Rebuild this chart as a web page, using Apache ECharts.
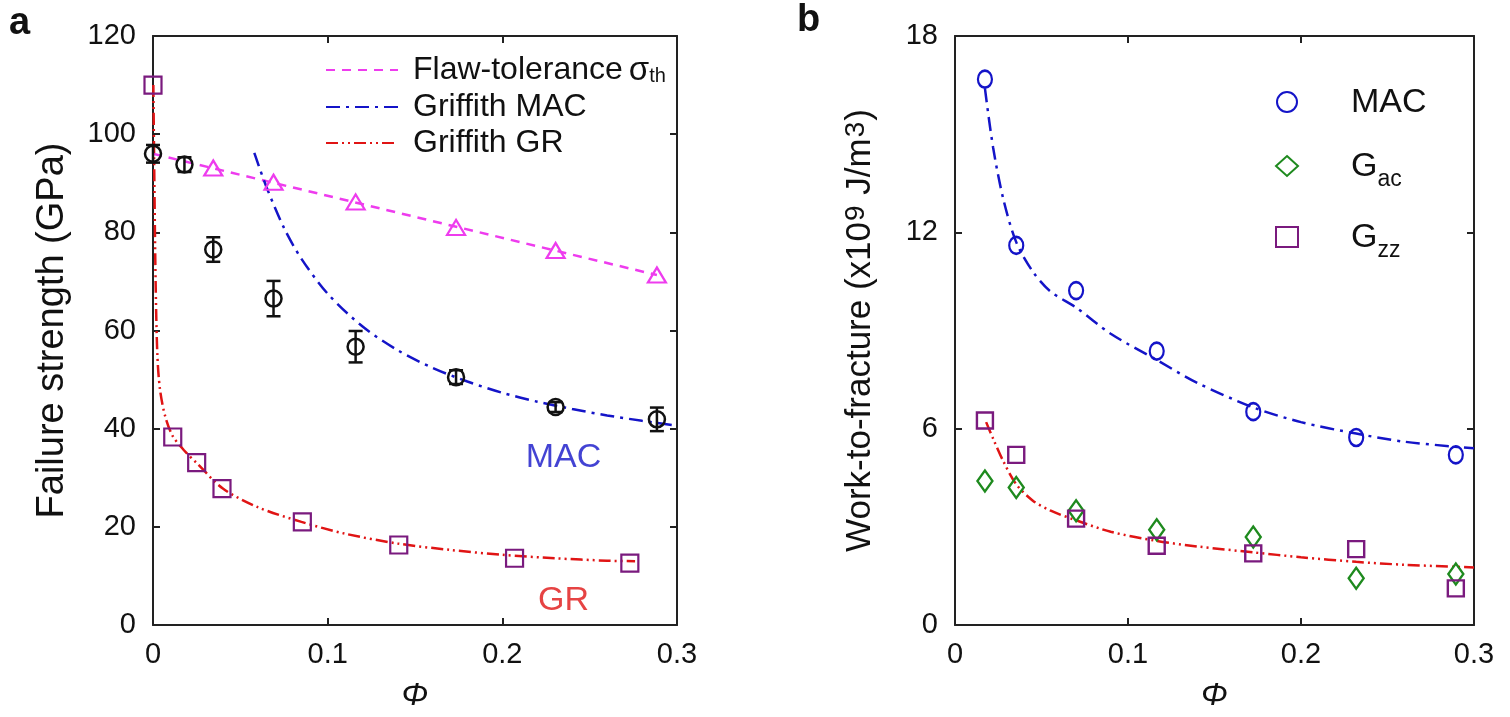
<!DOCTYPE html>
<html>
<head>
<meta charset="utf-8">
<script src="https://cdn.jsdelivr.net/npm/echarts@6/dist/echarts.min.js"></script>
<style>
  html, body { margin: 0; padding: 0; background: #fff; }
  #main { width: 1510px; height: 717px; }
</style>
</head>
<body>
<div id="main"></div>
<script>
// ---- panel a : failure strength ----
var phiMAC = [0, 0.018, 0.0345, 0.069, 0.116, 0.1735, 0.2305, 0.2885];
var strengthMAC = [96.0, 93.8, 76.5, 66.5, 56.7, 50.5, 44.4, 41.9];
var errMAC = [1.8, 1.5, 2.5, 3.6, 3.2, 1.4, 1.0, 2.4];

var phiTri = [0.0345, 0.069, 0.116, 0.1735, 0.2305, 0.2885];
var strengthTri = [93.1, 90.2, 86.2, 81.0, 76.3, 71.3];

var phiGR = [0, 0.0113, 0.025, 0.0395, 0.0855, 0.1407, 0.207, 0.273];
var strengthGR = [110, 38.3, 33.1, 27.8, 21.0, 16.3, 13.6, 12.6];

var flawPhi = [0, 0.2885];
var flawVal = [96.0, 71.3];

var macCurvePhi = [0.058, 0.065, 0.075, 0.085, 0.1, 0.12, 0.14, 0.16, 0.18, 0.2, 0.22, 0.24, 0.26, 0.28, 0.3];
var macCurveVal = [96.2, 89.2, 80.9, 74.6, 67.5, 60.8, 56.0, 52.4, 49.6, 47.3, 45.5, 44.0, 42.7, 41.6, 40.6];

var grCurvePhi = [0.0002, 0.0008, 0.0015, 0.0025, 0.004, 0.007, 0.0113, 0.018, 0.025, 0.04, 0.06, 0.085, 0.11, 0.14, 0.17, 0.2, 0.23, 0.26, 0.276];
var grCurveVal = [110, 90, 70, 55, 48, 42.5, 38.5, 35.5, 33.0, 27.8, 24.0, 21.0, 18.6, 16.6, 15.3, 14.3, 13.6, 13.1, 13.0];

// ---- panel b : work-to-fracture ----
var phiW = [0.0173, 0.0354, 0.070, 0.1166, 0.1724, 0.2319, 0.2895];
var workMAC = [16.68, 11.6, 10.22, 8.37, 6.52, 5.73, 5.2];
var workGac = [4.40, 4.20, 3.49, 2.91, 2.69, 1.43, 1.56];
var workGzz = [6.25, 5.2, 3.25, 2.42, 2.19, 2.32, 1.12];

var fitMacPhi = [0.0173, 0.022, 0.028, 0.0354, 0.045, 0.055, 0.07, 0.09, 0.1166, 0.14, 0.1724, 0.2, 0.2319, 0.26, 0.3];
var fitMacVal = [16.4, 14.6, 13.0, 11.7, 10.8, 10.2, 9.7, 8.9, 8.1, 7.4, 6.65, 6.2, 5.85, 5.6, 5.4];

var fitGrPhi = [0.018, 0.022, 0.0275, 0.0354, 0.045, 0.055, 0.07, 0.09, 0.1166, 0.14, 0.1724, 0.2, 0.2319, 0.26, 0.3];
var fitGrVal = [6.2, 5.7, 5.05, 4.3, 3.8, 3.5, 3.2, 2.85, 2.57, 2.4, 2.22, 2.07, 1.93, 1.84, 1.76];

var FONT = "'Liberation Sans', Arial, sans-serif";
var MAGENTA = '#ee3cee';
var BLUE = '#1414c8';
var RED = '#e01414';
var PURPLE = '#7a1a7e';
var GREEN = '#1e8a1e';

function zip(xs, ys) {
  return xs.map(function (x, i) { return [x, ys[i]]; });
}

var myChart = echarts.init(document.getElementById('main'));

var axisLineStyle = { onZero: false, lineStyle: { color: '#222', width: 2 } };
var tickStyle = { inside: true, length: 7, lineStyle: { color: '#222', width: 2 } };

function xAxisPair(grid) {
  return [
    {
      gridIndex: grid, type: 'value', position: 'bottom', min: 0, max: 0.3, interval: 0.1,
      name: 'Φ', nameLocation: 'middle', nameGap: 55,
      nameTextStyle: { fontFamily: FONT, fontSize: 32, fontStyle: 'italic', color: '#111' },
      axisLine: axisLineStyle, axisTick: tickStyle,
      axisLabel: { fontFamily: FONT, fontSize: 29, color: '#111', margin: 15 },
      splitLine: { show: false }
    },
    {
      gridIndex: grid, type: 'value', position: 'top', min: 0, max: 0.3, interval: 0.1,
      axisLine: axisLineStyle, axisTick: tickStyle,
      axisLabel: { show: false },
      splitLine: { show: false }
    }
  ];
}

function yAxisPair(grid, max, step, name, gap, size, rich) {
  var nameStyle = { fontFamily: FONT, fontSize: size, color: '#111' };
  if (rich) nameStyle.rich = rich;
  return [
    {
      gridIndex: grid, type: 'value', position: 'left', min: 0, max: max, interval: step,
      name: name, nameLocation: 'middle', nameGap: gap,
      nameTextStyle: nameStyle,
      axisLine: axisLineStyle, axisTick: tickStyle,
      axisLabel: { fontFamily: FONT, fontSize: 29, color: '#111', margin: 17 },
      splitLine: { show: false }
    },
    {
      gridIndex: grid, type: 'value', position: 'right', min: 0, max: max, interval: step,
      axisLine: axisLineStyle, axisTick: tickStyle,
      axisLabel: { show: false },
      splitLine: { show: false }
    }
  ];
}

var xAxes = xAxisPair(0).concat(xAxisPair(1));
var yAxes = yAxisPair(0, 120, 20, 'Failure strength (GPa)', 81, 38)
  .concat(yAxisPair(1, 18, 6,
    '{t|Work-to-fracture (x10}{p|9}{t| J/m}{p|3}{t|)}', 50, 35,
    {
      t: { fontFamily: FONT, fontSize: 35, color: '#111', verticalAlign: 'bottom', lineHeight: 36 },
      p: { fontFamily: FONT, fontSize: 28, color: '#111', verticalAlign: 'top', lineHeight: 28, padding: [0, 1, 32, 1] }
    }));

myChart.setOption({
  animation: false,
  backgroundColor: '#fff',
  grid: [
    { left: 153, top: 36, width: 524, height: 590 },
    { left: 955, top: 36, width: 519, height: 590 }
  ],
  xAxis: xAxes,
  yAxis: yAxes,
  graphic: [
    { type: 'text', left: 9, top: 5, style: { text: 'a', fontFamily: FONT, fontSize: 38, fontWeight: 'bold', fill: '#111' } },
    { type: 'text', left: 797, top: 2, style: { text: 'b', fontFamily: FONT, fontSize: 38, fontWeight: 'bold', fill: '#111' } }
  ],
  legend: [
    {
      data: ['Flaw-tolerance', 'Griffith MAC', 'Griffith GR'],
      orient: 'vertical', left: 320, top: 49,
      itemWidth: 72, itemHeight: 14, itemGap: 4,
      itemStyle: { opacity: 0 },
      formatter: function (name) {
        if (name === 'Flaw-tolerance') return '{t|Flaw-tolerance}{s|σ}{b|th}';
        return '{t|' + name + '}';
      },
      textStyle: {
        fontFamily: FONT, fontSize: 32, color: '#111', padding: [0, 0, 0, 10],
        rich: {
          t: { fontFamily: FONT, fontSize: 32, color: '#111', lineHeight: 32, verticalAlign: 'bottom' },
          s: { fontFamily: FONT, fontSize: 33, color: '#111', lineHeight: 32, verticalAlign: 'top', padding: [0, 0, 0, 6] },
          b: { fontFamily: FONT, fontSize: 20, color: '#111', lineHeight: 6, verticalAlign: 'bottom' }
        }
      }
    },
    {
      data: ['MAC', 'Gac', 'Gzz'],
      orient: 'vertical', left: 1270, top: 81,
      itemWidth: 22, itemHeight: 20, itemGap: 30,
      formatter: function (name) {
        if (name === 'MAC') return '{t|MAC}';
        return '{t|G}{b|' + name.slice(1) + '}';
      },
      textStyle: {
        fontFamily: FONT, fontSize: 34, color: '#111', padding: [0, 0, 0, 48],
        rich: {
          t: { fontFamily: FONT, fontSize: 34, color: '#111', lineHeight: 36, verticalAlign: 'bottom' },
          b: { fontFamily: FONT, fontSize: 23, color: '#111', lineHeight: 36, verticalAlign: 'bottom', padding: [0, 0, -7, 0] }
        }
      }
    }
  ],
  series: [
    // panel a curves
    {
      name: 'Flaw-tolerance', type: 'line', xAxisIndex: 0, yAxisIndex: 0,
      data: zip(flawPhi, flawVal), symbol: 'none', z: 2,
      lineStyle: { color: MAGENTA, width: 2.5, type: [9, 7] }, itemStyle: { color: MAGENTA }
    },
    {
      name: 'Griffith MAC', type: 'line', xAxisIndex: 0, yAxisIndex: 0,
      data: zip(macCurvePhi, macCurveVal), symbol: 'none', smooth: 0.3, z: 2,
      lineStyle: { color: BLUE, width: 2.5, type: [14, 6, 3, 6] }, itemStyle: { color: BLUE }
    },
    {
      name: 'Griffith GR', type: 'line', xAxisIndex: 0, yAxisIndex: 0,
      data: zip(grCurvePhi, grCurveVal), symbol: 'none', smooth: 0.3, z: 2,
      lineStyle: { color: RED, width: 2.5, type: [12, 4, 2, 4, 2, 4] }, itemStyle: { color: RED }
    },
    // panel a markers
    {
      name: 'triangles', type: 'scatter', xAxisIndex: 0, yAxisIndex: 0,
      data: zip(phiTri, strengthTri), symbol: 'triangle', symbolSize: [18, 15], z: 4,
      itemStyle: { color: 'rgba(0,0,0,0)', borderColor: MAGENTA, borderWidth: 2.2, opacity: 1 }
    },
    {
      name: 'GR squares', type: 'scatter', xAxisIndex: 0, yAxisIndex: 0,
      data: zip(phiGR, strengthGR), symbol: 'rect', symbolSize: 17, z: 4,
      itemStyle: { color: 'rgba(0,0,0,0)', borderColor: PURPLE, borderWidth: 2.2, opacity: 1 }
    },
    {
      name: 'error bars', type: 'custom', xAxisIndex: 0, yAxisIndex: 0, z: 5,
      data: phiMAC.map(function (p, i) { return [p, strengthMAC[i], errMAC[i]]; }),
      encode: { x: 0, y: 1 },
      renderItem: function (params, api) {
        var x = api.value(0), y = api.value(1), e = api.value(2);
        var top = api.coord([x, y + e]);
        var bot = api.coord([x, y - e]);
        var w = 7;
        var st = { stroke: '#111', lineWidth: 2.5 };
        return {
          type: 'group',
          children: [
            { type: 'line', shape: { x1: top[0], y1: top[1], x2: bot[0], y2: bot[1] }, style: st },
            { type: 'line', shape: { x1: top[0] - w, y1: top[1], x2: top[0] + w, y2: top[1] }, style: st },
            { type: 'line', shape: { x1: bot[0] - w, y1: bot[1], x2: bot[0] + w, y2: bot[1] }, style: st }
          ]
        };
      }
    },
    {
      name: 'MAC strength', type: 'scatter', xAxisIndex: 0, yAxisIndex: 0,
      data: zip(phiMAC, strengthMAC), symbol: 'circle', symbolSize: 16, z: 6,
      itemStyle: { color: 'rgba(0,0,0,0)', borderColor: '#111', borderWidth: 2.5, opacity: 1 }
    },
    // curve annotations
    {
      name: 'annot', type: 'scatter', xAxisIndex: 0, yAxisIndex: 0, symbolSize: 0, silent: true,
      data: [
        { value: [0.235, 34.2], label: { formatter: 'MAC', color: BLUE } },
        { value: [0.235, 4.9], label: { formatter: 'GR', color: RED } }
      ],
      label: { show: true, position: 'inside', fontFamily: FONT, fontSize: 34 }
    },
    // panel b curves
    {
      name: 'fit MAC', type: 'line', xAxisIndex: 2, yAxisIndex: 2,
      data: zip(fitMacPhi, fitMacVal), symbol: 'none', smooth: 0.3, z: 2,
      lineStyle: { color: BLUE, width: 2.5, type: [14, 6, 3, 6] }
    },
    {
      name: 'fit GR', type: 'line', xAxisIndex: 2, yAxisIndex: 2,
      data: zip(fitGrPhi, fitGrVal), symbol: 'none', smooth: 0.3, z: 2,
      lineStyle: { color: RED, width: 2.5, type: [12, 4, 2, 4, 2, 4] }
    },
    // panel b markers
    {
      name: 'MAC', type: 'scatter', xAxisIndex: 2, yAxisIndex: 2,
      data: zip(phiW, workMAC), symbol: 'circle', symbolSize: [14, 17], z: 4,
      itemStyle: { color: 'rgba(0,0,0,0)', borderColor: BLUE, borderWidth: 2.4, opacity: 1 }
    },
    {
      name: 'Gac', type: 'scatter', xAxisIndex: 2, yAxisIndex: 2,
      data: zip(phiW, workGac), symbol: 'diamond', symbolSize: [15, 21], z: 4,
      itemStyle: { color: 'rgba(0,0,0,0)', borderColor: GREEN, borderWidth: 2.4, opacity: 1 }
    },
    {
      name: 'Gzz', type: 'scatter', xAxisIndex: 2, yAxisIndex: 2,
      data: zip(phiW, workGzz), symbol: 'rect', symbolSize: 16, z: 4,
      itemStyle: { color: 'rgba(0,0,0,0)', borderColor: PURPLE, borderWidth: 2.4, opacity: 1 }
    }
  ]
});
</script>
</body>
</html>
